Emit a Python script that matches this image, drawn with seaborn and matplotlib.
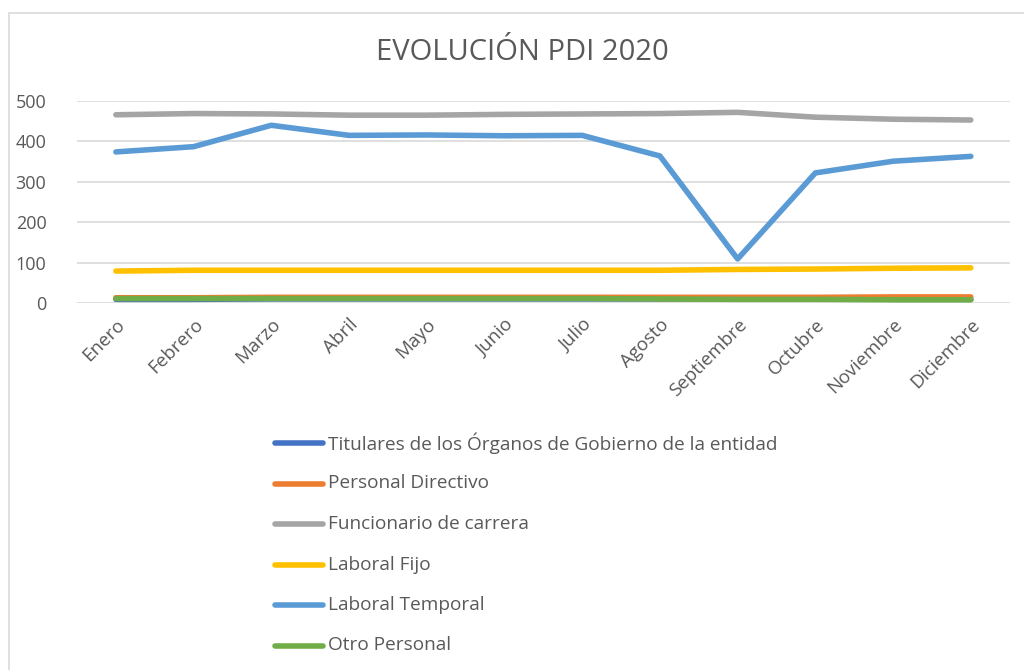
import pandas as pd
import matplotlib.pyplot as plt
import seaborn as sns
from matplotlib.patches import Rectangle

meses = ["Enero", "Febrero", "Marzo", "Abril", "Mayo", "Junio", "Julio",
         "Agosto", "Septiembre", "Octubre", "Noviembre", "Diciembre"]

titulares = [9, 9, 10, 10, 10, 10, 10, 10, 11, 12, 9, 9]
directivo = [13, 13, 14, 14, 14, 14, 14, 14, 14, 14, 15, 15]
funcionario = [466, 469, 468, 465, 465, 467, 468, 469, 472, 460, 455, 453]
laboral_fijo = [79, 81, 81, 81, 81, 81, 81, 81, 83, 84, 86, 87]
laboral_temporal = [374, 387, 440, 415, 416, 414, 415, 364, 109, 322, 351, 363]
otro = [11, 11, 11, 11, 11, 11, 11, 10, 9, 9, 8, 8]

series = {
    "Titulares de los Órganos de Gobierno de la entidad": titulares,
    "Personal Directivo": directivo,
    "Funcionario de carrera": funcionario,
    "Laboral Fijo": laboral_fijo,
    "Laboral Temporal": laboral_temporal,
    "Otro Personal": otro,
}
colores = ["#4472C4", "#ED7D31", "#A5A5A5", "#FFC000", "#5B9BD5", "#70AD47"]

rows = []
for nombre, vals in series.items():
    for i, v in enumerate(vals):
        rows.append({"mes": i, "serie": nombre, "valor": v})
df = pd.DataFrame(rows)

sns.set_style("white")
plt.rcParams['font.family'] = ['Open Sans', 'DejaVu Sans']
texto = "#595959"

fig = plt.figure(figsize=(10.24, 6.7), dpi=100)
ax = fig.add_axes([0.0752, 0.5478, 0.9108, 0.3014])

sns.lineplot(data=df, x="mes", y="valor", hue="serie", palette=colores,
             linewidth=4, ax=ax, legend=False, sort=False)
for ln in ax.get_lines():
    ln.set_solid_capstyle("round")
    ln.set_solid_joinstyle("round")

ax.set_xlim(-0.5, 11.5)
ax.set_ylim(0, 500)
ax.set_yticks([0, 100, 200, 300, 400, 500])
ax.set_xticks(range(len(meses)))
ax.set_xticklabels(meses, rotation=45, ha="right", rotation_mode="anchor",
                   fontsize=13.5, color=texto)
ax.tick_params(axis="y", labelsize=13, labelcolor=texto, length=0, pad=22)
ax.tick_params(axis="x", length=0, pad=9)
ax.yaxis.grid(True, color="#D9D9D9", linewidth=1.2)
ax.set_axisbelow(True)
for s in ax.spines.values():
    s.set_visible(False)
ax.set_xlabel("")
ax.set_ylabel("")

fig.text(0.51, 0.922, "EVOLUCIÓN PDI 2020", ha="center", va="center",
         fontsize=21, color=texto)

# legend, stacked vertically below the chart
for i, (nombre, c) in enumerate(zip(series.keys(), colores)):
    y = 1 - (443 + i * 40.5) / 670
    fig.add_artist(plt.Line2D([275 / 1024, 323 / 1024], [y, y], color=c,
                              linewidth=4, solid_capstyle="round"))
    fig.text(328 / 1024, y, nombre, ha="left", va="center", fontsize=13.7,
             color=texto)

fig.add_artist(Rectangle((8.5 / 1024, -0.1), 1.2, 1 - 12.5 / 670 + 0.1,
                         transform=fig.transFigure, fill=False,
                         edgecolor="#D9D9D9", linewidth=1.2))

fig.savefig("out.png", dpi=100)
